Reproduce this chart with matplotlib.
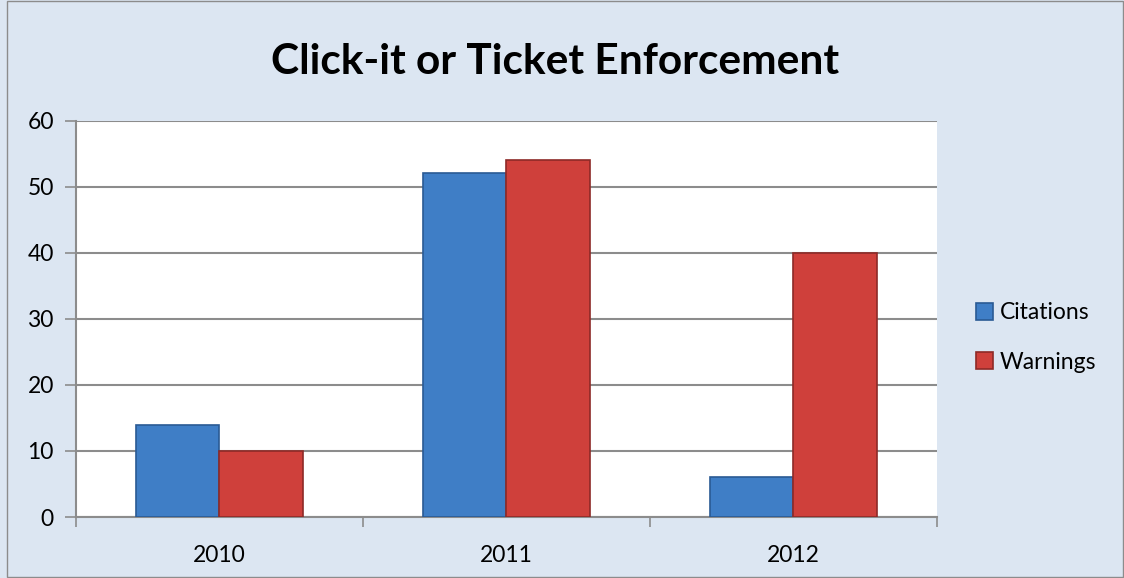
import matplotlib
matplotlib.use('Agg')
import matplotlib.pyplot as plt
import numpy as np
from matplotlib.patches import Rectangle

plt.rcParams['font.family'] = ['Lato', 'DejaVu Sans']

# Data
years = ['2010', '2011', '2012']
citations = [14, 52, 6]
warnings = [10, 54, 40]

bg = '#dce6f2'
blue = '#3f7ec6'
red = '#cf403b'

fig = plt.figure(figsize=(11.24, 5.78), dpi=100)
fig.patch.set_facecolor(bg)
fig.add_artist(Rectangle((0.006, 0.001), 0.993, 0.998, transform=fig.transFigure,
                         fill=False, edgecolor='#8c8c8c', linewidth=1.0))

ax = fig.add_axes([0.0676, 0.1055, 0.766, 0.686])
ax.set_facecolor('white')

x = np.arange(len(years))
w = 0.29
ax.bar(x - w / 2, citations, w, color=blue, edgecolor='#2a5a94', linewidth=1.2,
       label='Citations', zorder=3)
ax.bar(x + w / 2, warnings, w, color=red, edgecolor='#8e2a27', linewidth=1.2,
       label='Warnings', zorder=3)

ax.set_xlim(-0.5, 2.5)
ax.set_ylim(0, 60)
ax.set_yticks(range(0, 61, 10))
ax.set_xticks(x)
ax.set_xticklabels(years)
ax.set_xticks([-0.5, 0.5, 1.5, 2.5], minor=True)
ax.tick_params(axis='x', which='major', length=0, pad=20, labelsize=16.5)
ax.tick_params(axis='x', which='minor', length=7, color='#8c8c8c', width=1.2)
ax.tick_params(axis='y', length=8, color='#8c8c8c', width=1.2, labelsize=16.5, pad=8)

ax.grid(axis='y', color='#8c8c8c', linewidth=1.5, zorder=0)
for s in ['top', 'right']:
    ax.spines[s].set_visible(False)
for s in ['left', 'bottom']:
    ax.spines[s].set_color('#8c8c8c')
    ax.spines[s].set_linewidth(1.5)

fig.text(0.494, 0.893, 'Click-it or Ticket Enforcement', ha='center', va='center',
         fontsize=30.5, fontweight='bold')

fig.legend(loc='center left', bbox_to_anchor=(976 / 1124, 0.416),
           bbox_transform=fig.transFigure, frameon=False,
           fontsize=16.5, handlelength=0.75, handleheight=0.75, handletextpad=0.3,
           labelspacing=1.25, borderpad=0, borderaxespad=0)

fig.savefig('out.png', dpi=100, facecolor=bg)
